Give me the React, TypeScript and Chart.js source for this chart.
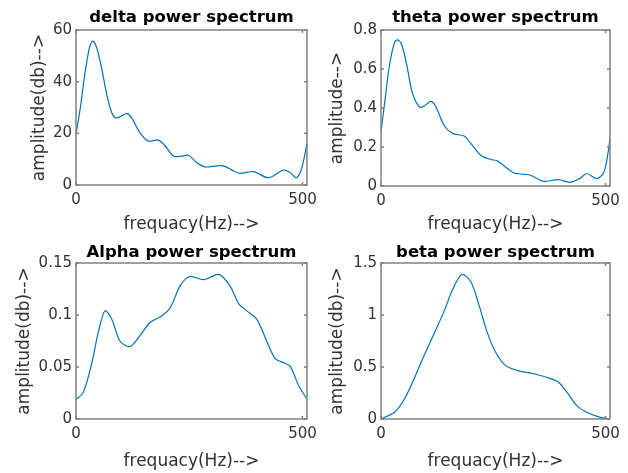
import React, { useEffect, useRef } from "react";
import { Chart, registerables } from "chart.js";

Chart.register(...registerables);

// ---------- data ----------
const X_TICKS = [0, 500];
const X_MAX = 510;

const DELTA_F = [0, 9, 20, 29.5, 37, 46, 57, 68, 79, 88, 101, 112, 123, 141, 160, 182, 197, 215, 234, 248, 267, 285, 311, 326, 348, 363, 392, 425, 458, 473, 486, 495, 503, 510];
const DELTA_V = [19.6, 29.3, 43.5, 53, 55.7, 53, 44.8, 35, 28, 26, 26.7, 27.7, 26, 20.3, 17, 17.4, 15.1, 11.2, 11.2, 11.5, 8.6, 7, 7.4, 7.4, 5.4, 4.5, 5.2, 2.8, 5.8, 4.8, 2.8, 4.8, 9.9, 16.4];
const DELTA_YTICKS = [0, 20, 40, 60];

const THETA_F = [0, 9, 18.5, 30, 37, 46, 58, 70, 87, 100, 111, 122, 140, 159, 185, 200, 222, 244, 259, 277, 296, 318, 333, 362, 395, 421, 443, 458, 480, 495, 503, 510];
const THETA_V = [0.279, 0.442, 0.614, 0.735, 0.749, 0.726, 0.614, 0.477, 0.403, 0.417, 0.434, 0.408, 0.313, 0.27, 0.256, 0.219, 0.158, 0.136, 0.129, 0.098, 0.067, 0.06, 0.055, 0.024, 0.033, 0.019, 0.038, 0.064, 0.038, 0.064, 0.133, 0.244];
const THETA_YTICKS = [0, 0.2, 0.4, 0.6, 0.8];

const ALPHA_F = [0, 16, 35, 49, 64, 79, 97, 119, 141, 164, 189, 208, 230, 251, 282, 315, 340, 359, 377, 399, 422, 440, 462, 473, 492, 510];
const ALPHA_V = [0.0186, 0.0256, 0.054, 0.083, 0.104, 0.096, 0.075, 0.0696, 0.08, 0.093, 0.099, 0.107, 0.128, 0.137, 0.134, 0.139, 0.128, 0.111, 0.104, 0.096, 0.074, 0.058, 0.0535, 0.0506, 0.032, 0.019];
const ALPHA_YTICKS = [0, 0.05, 0.1, 0.15];

const BETA_F = [0, 30, 52, 74, 96, 118, 140, 159, 180, 200, 218, 236, 255, 277, 303, 340, 377, 395, 414, 436, 458, 488, 510];
const BETA_V = [0, 0.065, 0.19, 0.39, 0.61, 0.82, 1.03, 1.24, 1.39, 1.32, 1.1, 0.84, 0.645, 0.516, 0.468, 0.435, 0.39, 0.355, 0.258, 0.129, 0.065, 0.016, 0];
const BETA_YTICKS = [0, 0.5, 1, 1.5];

const TITLES = ["delta power spectrum", "theta power spectrum", "Alpha power spectrum", "beta power spectrum"];
const Y_LABELS = ["amplitude(db)-->", "amplitude-->", "amplitude(db)-->", "amplitude(db)-->"];
const X_LABEL = "frequacy(Hz)-->";

// ---------- styling / layout ----------
const FONT = "DejaVu Sans";
const LINE_COLOR = "#0072BD";
const TEXT_COLOR = "#333333";
const BOX_COLOR = "#808080";

const fmt = (v: number) => String(+Number(v).toFixed(4));

const boxPlugin = {
  id: "matlabBox",
  afterDraw(chart: any) {
    const { ctx, chartArea: a, scales } = chart;
    ctx.save();
    ctx.strokeStyle = BOX_COLOR;
    ctx.lineWidth = 1.5;
    ctx.strokeRect(a.left, a.top, a.right - a.left, a.bottom - a.top);
    const tl = 3;
    ctx.beginPath();
    scales.x.ticks.forEach((t: any) => {
      const px = scales.x.getPixelForValue(t.value);
      ctx.moveTo(px, a.bottom);
      ctx.lineTo(px, a.bottom - tl);
      ctx.moveTo(px, a.top);
      ctx.lineTo(px, a.top + tl);
    });
    scales.y.ticks.forEach((t: any) => {
      const py = scales.y.getPixelForValue(t.value);
      ctx.moveTo(a.left, py);
      ctx.lineTo(a.left + tl, py);
      ctx.moveTo(a.right, py);
      ctx.lineTo(a.right - tl, py);
    });
    ctx.stroke();
    ctx.restore();
  },
};

type Spec = {
  title: string;
  yLabel: string;
  f: number[];
  v: number[];
  yTicks: number[];
  left: number;
  right: number;
  top: number;
  bottom: number;
  yTitlePad: number;
  titleTop: number;
};

function makeConfig(s: Spec): any {
  const lineH = 16.5 * 1.2;
  return {
    type: "line",
    data: {
      datasets: [
        {
          data: s.f.map((x, i) => ({ x, y: s.v[i] })),
          borderColor: LINE_COLOR,
          borderWidth: 1.2,
          pointRadius: 0,
          fill: false,
          tension: 0.3,
        },
      ],
    },
    options: {
      responsive: false,
      animation: false,
      devicePixelRatio: 1,
      layout: { padding: { left: 0, right: s.right, top: 0, bottom: 0 } },
      plugins: {
        legend: { display: false },
        tooltip: { enabled: false },
        title: {
          display: true,
          text: s.title,
          fullSize: false,
          color: "#000000",
          font: { family: FONT, size: 16.5, weight: "bold", lineHeight: 1.2 },
          padding: { top: s.titleTop, bottom: Math.max(0, s.top - s.titleTop - lineH) },
        },
      },
      scales: {
        x: {
          type: "linear",
          min: 0,
          max: X_MAX,
          grid: { display: false, drawTicks: false },
          border: { display: false },
          afterBuildTicks: (sc: any) => {
            sc.ticks = X_TICKS.map((value) => ({ value }));
          },
          afterFit: (sc: any) => {
            sc.height = s.bottom;
          },
          ticks: {
            padding: 6,
            color: TEXT_COLOR,
            font: { family: FONT, size: 15 },
            maxRotation: 0,
            callback: (v: number) => fmt(v),
          },
          title: {
            display: true,
            text: X_LABEL,
            color: TEXT_COLOR,
            font: { family: FONT, size: 17, lineHeight: 1.2 },
            padding: { top: 0, bottom: 1 },
          },
        },
        y: {
          type: "linear",
          min: s.yTicks[0],
          max: s.yTicks[s.yTicks.length - 1],
          grid: { display: false, drawTicks: false },
          border: { display: false },
          afterBuildTicks: (sc: any) => {
            sc.ticks = s.yTicks.map((value) => ({ value }));
          },
          afterFit: (sc: any) => {
            sc.width = s.left;
          },
          ticks: {
            padding: 4,
            color: TEXT_COLOR,
            font: { family: FONT, size: 15 },
            callback: (v: number) => fmt(v),
          },
          title: {
            display: true,
            text: s.yLabel,
            color: TEXT_COLOR,
            font: { family: FONT, size: 17, lineHeight: 1.2 },
            padding: { top: s.yTitlePad, bottom: 0 },
          },
        },
      },
    },
    plugins: [boxPlugin],
  };
}

function Panel({ x, y, w, h, spec }: { x: number; y: number; w: number; h: number; spec: Spec }) {
  const ref = useRef<HTMLCanvasElement | null>(null);
  useEffect(() => {
    const chart = new Chart(ref.current as HTMLCanvasElement, makeConfig(spec));
    return () => chart.destroy();
  }, []);
  return (
    <canvas
      ref={ref}
      width={w}
      height={h}
      style={{ position: "absolute", left: x, top: y, width: w, height: h }}
    />
  );
}

export default function App() {
  return (
    <div style={{ position: "absolute", left: 0, top: 0, width: 628, height: 473, background: "#ffffff", overflow: "hidden" }}>
      <Panel
        x={0}
        y={0}
        w={330}
        h={236}
        spec={{ title: TITLES[0], yLabel: Y_LABELS[0], f: DELTA_F, v: DELTA_V, yTicks: DELTA_YTICKS, left: 76, right: 23, top: 30, bottom: 51, yTitlePad: 29.8, titleTop: 7.6 }}
      />
      <Panel
        x={314}
        y={0}
        w={314}
        h={236}
        spec={{ title: TITLES[1], yLabel: Y_LABELS[1], f: THETA_F, v: THETA_V, yTicks: THETA_YTICKS, left: 67, right: 18, top: 30, bottom: 50, yTitlePad: 13.3, titleTop: 7.6 }}
      />
      <Panel
        x={0}
        y={236}
        w={330}
        h={237}
        spec={{ title: TITLES[2], yLabel: Y_LABELS[2], f: ALPHA_F, v: ALPHA_V, yTicks: ALPHA_YTICKS, left: 76, right: 23, top: 27, bottom: 54, yTitlePad: 14.8, titleTop: 7.2 }}
      />
      <Panel
        x={314}
        y={236}
        w={314}
        h={237}
        spec={{ title: TITLES[3], yLabel: Y_LABELS[3], f: BETA_F, v: BETA_V, yTicks: BETA_YTICKS, left: 67, right: 18, top: 27, bottom: 54, yTitlePad: 13.3, titleTop: 7.2 }}
      />
    </div>
  );
}
